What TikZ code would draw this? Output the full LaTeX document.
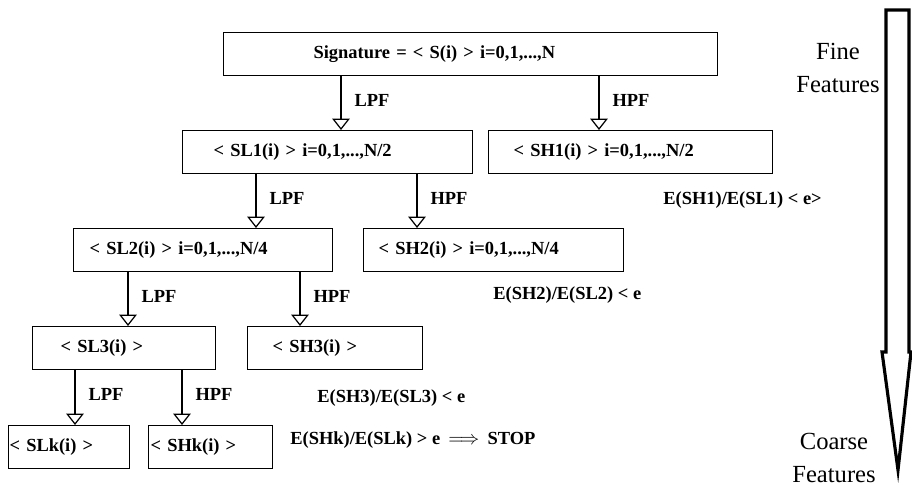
\documentclass[tikz,border=0pt]{standalone}
\usepackage{fontspec}
\setmainfont{Liberation Serif}
\usetikzlibrary{arrows.meta}

\begin{document}
\begin{tikzpicture}[x=0.02cm, y=-0.02cm,
  blk/.style={draw, line width=0.7pt, anchor=north west, minimum height=0.86cm,
    inner xsep=0pt, align=left, font=\fontsize{10.5}{12}\selectfont\bfseries},
  filt/.style={line width=0.7pt, -{Triangle[open, width=10pt, length=6.5pt]}},
  flbl/.style={right, pos=0.45, xshift=4pt, font=\fontsize{10.5}{12}\selectfont\bfseries},
  ratio/.style={anchor=west, inner sep=0pt, font=\fontsize{10.5}{12}\selectfont\bfseries},
  axlbl/.style={align=center, inner sep=0pt, font=\fontsize{14}{19}\selectfont}
]
\useasboundingbox (0,0) rectangle (912,487);

% ================= DECOMPOSITION TREE =================
\node[blk, text width=9.88cm] (sig) at (223,32)
{\hspace*{1.8cm}Signature = < S(i) > i=0,1,...,N};

\node[blk, text width=5.8cm] (sl1) at (182,130)
{\hspace*{0.62cm}< SL1(i) > i=0,1,...,N/2};
\node[blk, text width=5.68cm] (sh1) at (488,130)
{\hspace*{0.5cm}< SH1(i) > i=0,1,...,N/2};

\node[blk, text width=5.18cm] (sl2) at (73,228)
{\hspace*{0.32cm}< SL2(i) > i=0,1,...,N/4};
\node[blk, text width=5.2cm] (sh2) at (363,228)
{\hspace*{0.3cm}< SH2(i) > i=0,1,...,N/4};

\node[blk, text width=3.66cm] (sl3) at (32,326)
{\hspace*{0.56cm}< SL3(i) >};
\node[blk, text width=3.5cm] (sh3) at (247,326)
{\hspace*{0.5cm}< SH3(i) >};

\node[blk, text width=2.42cm] (slk) at (8,425)
{\hspace*{0.02cm}< SLk(i) >};
\node[blk, text width=2.48cm] (shk) at (148,425)
{\hspace*{0.04cm}< SHk(i) >};

% ================= FILTER CONNECTORS =================
\draw[filt] (sig.south -| 341,0) -- node[flbl] {LPF} (sl1.north -| 341,0);
\draw[filt] (sig.south -| 599,0) -- node[flbl] {HPF} (sh1.north -| 599,0);

\draw[filt] (sl1.south -| 256,0) -- node[flbl] {LPF} (sl2.north -| 256,0);
\draw[filt] (sl1.south -| 417,0) -- node[flbl] {HPF} (sh2.north -| 417,0);

\draw[filt] (sl2.south -| 128,0) -- node[flbl] {LPF} (sl3.north -| 128,0);
\draw[filt] (sl2.south -| 300,0) -- node[flbl] {HPF} (sh3.north -| 300,0);

\draw[filt] (sl3.south -| 75,0) -- node[flbl] {LPF} (slk.north -| 75,0);
\draw[filt] (sl3.south -| 182,0) -- node[flbl] {HPF} (shk.north -| 182,0);

% ================= ENERGY RATIOS =================
\node[ratio] (r1) at (663,200) {E(SH1)/E(SL1) < e>};
\node[ratio] (r2) at (493,295) {E(SH2)/E(SL2) < e};
\node[ratio] (r3) at (317,398) {E(SH3)/E(SL3) < e};
\node[ratio] (rk) at (290,440) {E(SHk)/E(SLk) > e\hspace{2pt} $\Longrightarrow$\hspace{2pt} STOP};

% ================= FINE TO COARSE ARROW =================
\draw[line width=1.8pt, line join=miter]
  (886,10) -- (909,10) -- (909,352) -- (911,352) -- (898,470)
  -- (882,352) -- (886,352) -- cycle;
\node[axlbl] (fine) at (838,68) {Fine\\Features};
\node[axlbl] (coarse) at (834,458) {Coarse\\Features};

\end{tikzpicture}
\end{document}
